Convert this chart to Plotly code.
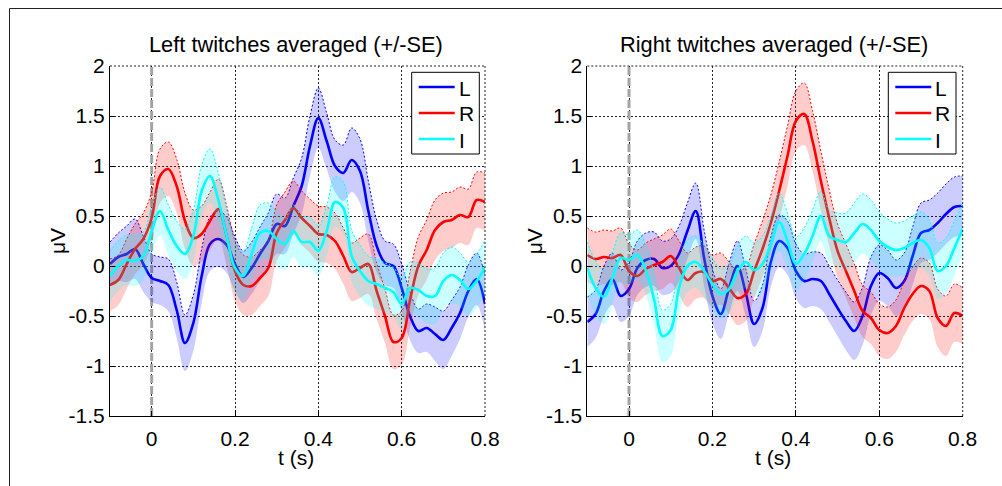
import plotly.graph_objects as go

# ---------------- data ----------------
t = [-0.10, -0.08, -0.06, -0.04, -0.02, 0.00, 0.02, 0.04, 0.06, 0.08,
     0.10, 0.12, 0.14, 0.16, 0.18, 0.20, 0.22, 0.24, 0.26, 0.28,
     0.30, 0.32, 0.34, 0.36, 0.38, 0.40, 0.42, 0.44, 0.46, 0.48,
     0.50, 0.52, 0.54, 0.56, 0.58, 0.60, 0.62, 0.64, 0.66, 0.68,
     0.70, 0.72, 0.74, 0.76, 0.78, 0.80]

series_names = ["L", "R", "I"]

# Left twitches
left_L = [0.02, 0.09, 0.12, 0.17, 0.02, -0.12, -0.15, -0.19, -0.44, -0.77,
          -0.57, -0.10, 0.22, 0.27, 0.21, 0.02, -0.11, -0.02, 0.12, 0.25,
          0.42, 0.40, 0.60, 0.80, 1.20, 1.48, 1.25, 1.00, 0.93, 1.06,
          0.95, 0.55, 0.20, 0.03, 0.00, -0.22, -0.50, -0.65, -0.62, -0.68,
          -0.74, -0.62, -0.47, -0.25, -0.13, -0.38]
left_L_se = [0.22, 0.24, 0.28, 0.30, 0.28, 0.24, 0.24, 0.26, 0.28, 0.28,
             0.28, 0.27, 0.27, 0.28, 0.28, 0.27, 0.26, 0.26, 0.27, 0.28,
             0.30, 0.28, 0.28, 0.28, 0.30, 0.30, 0.28, 0.26, 0.28, 0.32,
             0.32, 0.30, 0.26, 0.22, 0.22, 0.24, 0.24, 0.22, 0.24, 0.27,
             0.29, 0.28, 0.26, 0.26, 0.26, 0.28]
left_R = [-0.19, -0.14, 0.02, 0.17, 0.27, 0.48, 0.90, 0.97, 0.80, 0.45,
          0.28, 0.32, 0.45, 0.57, 0.30, -0.05, -0.19, -0.20, -0.12, -0.02,
          0.33, 0.46, 0.58, 0.48, 0.40, 0.32, 0.31, 0.25, 0.10, -0.06,
          -0.02, 0.02, -0.25, -0.50, -0.76, -0.72, -0.34, 0.00, 0.16, 0.36,
          0.44, 0.46, 0.51, 0.49, 0.66, 0.64]
left_R_se = [0.26, 0.25, 0.25, 0.25, 0.26, 0.26, 0.27, 0.27, 0.27, 0.28,
             0.28, 0.28, 0.29, 0.30, 0.30, 0.30, 0.30, 0.29, 0.28, 0.28,
             0.28, 0.28, 0.27, 0.27, 0.27, 0.28, 0.28, 0.28, 0.28, 0.29,
             0.30, 0.30, 0.28, 0.27, 0.27, 0.27, 0.28, 0.29, 0.30, 0.30,
             0.29, 0.28, 0.28, 0.28, 0.28, 0.29]
left_I = [-0.10, 0.00, 0.06, 0.05, 0.10, 0.35, 0.55, 0.36, 0.20, 0.12,
          0.30, 0.75, 0.90, 0.66, 0.30, -0.02, -0.10, 0.12, 0.33, 0.35,
          0.27, 0.22, 0.35, 0.24, 0.24, 0.15, 0.35, 0.64, 0.58, 0.10,
          -0.05, -0.15, -0.18, -0.22, -0.26, -0.38, -0.22, -0.24, -0.30, -0.30,
          -0.15, -0.09, -0.14, -0.23, -0.15, -0.01]
left_I_se = [0.25, 0.25, 0.25, 0.25, 0.24, 0.24, 0.24, 0.25, 0.25, 0.25,
             0.26, 0.26, 0.27, 0.27, 0.26, 0.25, 0.25, 0.26, 0.28, 0.28,
             0.27, 0.26, 0.26, 0.26, 0.25, 0.25, 0.25, 0.25, 0.26, 0.26,
             0.26, 0.25, 0.25, 0.25, 0.25, 0.26, 0.26, 0.27, 0.27, 0.28,
             0.28, 0.28, 0.27, 0.27, 0.27, 0.27]

# Right twitches
right_L = [-0.56, -0.48, -0.25, -0.13, -0.30, -0.23, -0.02, 0.06, 0.07, -0.02,
           0.00, 0.12, 0.35, 0.55, 0.08, -0.30, -0.48, -0.22, 0.00, -0.27,
           -0.58, -0.42, 0.04, 0.25, 0.18, -0.05, -0.15, -0.13, -0.15, -0.28,
           -0.42, -0.55, -0.65, -0.50, -0.20, -0.07, -0.12, -0.22, -0.15, 0.10,
           0.33, 0.36, 0.43, 0.52, 0.59, 0.60]
right_L_se = [0.25, 0.24, 0.25, 0.26, 0.26, 0.27, 0.27, 0.27, 0.27, 0.27,
              0.27, 0.28, 0.28, 0.28, 0.28, 0.27, 0.25, 0.25, 0.25, 0.24,
              0.23, 0.23, 0.25, 0.26, 0.27, 0.27, 0.27, 0.27, 0.28, 0.28,
              0.28, 0.29, 0.29, 0.29, 0.29, 0.28, 0.28, 0.28, 0.28, 0.29,
              0.30, 0.30, 0.30, 0.30, 0.30, 0.30]
right_R = [0.11, 0.07, 0.09, 0.08, 0.11, -0.05, -0.10, -0.03, 0.01, 0.04,
           0.10, -0.02, -0.14, -0.07, -0.06, -0.15, -0.13, -0.22, -0.32, -0.28,
           -0.05, 0.17, 0.43, 0.75, 1.10, 1.45, 1.52, 1.25, 0.85, 0.48,
           0.15, -0.05, -0.25, -0.45, -0.52, -0.64, -0.67, -0.60, -0.42, -0.28,
           -0.20, -0.25, -0.52, -0.60, -0.47, -0.50]
right_R_se = [0.27, 0.27, 0.27, 0.27, 0.27, 0.27, 0.26, 0.26, 0.26, 0.27,
              0.27, 0.27, 0.27, 0.26, 0.26, 0.26, 0.26, 0.26, 0.27, 0.27,
              0.27, 0.28, 0.28, 0.29, 0.30, 0.30, 0.31, 0.30, 0.30, 0.28,
              0.27, 0.27, 0.27, 0.26, 0.26, 0.26, 0.26, 0.26, 0.27, 0.27,
              0.28, 0.28, 0.29, 0.30, 0.29, 0.28]
right_I = [-0.02, -0.22, -0.31, -0.12, 0.08, 0.06, 0.11, -0.04, -0.33, -0.70,
           -0.64, -0.22, 0.00, 0.04, -0.05, -0.18, -0.28, -0.23, -0.05, 0.04,
           -0.04, 0.02, 0.22, 0.44, 0.25, 0.02, 0.12, 0.30, 0.50, 0.30,
           0.26, 0.24, 0.33, 0.42, 0.36, 0.25, 0.19, 0.16, 0.18, 0.23,
           0.26, 0.18, -0.05, 0.00, 0.18, 0.37]
right_I_se = [0.26, 0.27, 0.27, 0.26, 0.25, 0.25, 0.25, 0.25, 0.26, 0.26,
              0.26, 0.26, 0.26, 0.26, 0.26, 0.26, 0.25, 0.25, 0.25, 0.26,
              0.27, 0.28, 0.28, 0.29, 0.28, 0.27, 0.26, 0.26, 0.25, 0.26,
              0.27, 0.29, 0.30, 0.30, 0.30, 0.29, 0.28, 0.27, 0.27, 0.27,
              0.28, 0.28, 0.28, 0.28, 0.27, 0.26]

x_ticks = [0, 0.2, 0.4, 0.6, 0.8]
x_ticktext = ["0", "0.2", "0.4", "0.6", "0.8"]
y_ticks = [-1.5, -1, -0.5, 0, 0.5, 1, 1.5, 2]
y_ticktext = ["-1.5", "-1", "-0.5", "0", "0.5", "1", "1.5", "2"]
x_range = [-0.1, 0.8]
y_range = [-1.5, 2]
zero_time = [0, 0]

titles = ["Left twitches averaged (+/-SE)", "Right twitches averaged (+/-SE)"]

# ---------------- styling ----------------
W, H = 1002, 486
FONT = "Liberation Sans, Arial, Helvetica, sans-serif"
FS = 21
TFS = 21.8
line_colors = {"L": "rgb(0,0,255)", "R": "rgb(255,0,0)", "I": "rgb(0,255,255)"}
fill_colors = {"L": "rgba(0,0,255,0.2)", "R": "rgba(255,0,0,0.2)", "I": "rgba(0,255,255,0.2)"}

plot_top, plot_bot = 66, 416
panels = [
    dict(xd=(110, 485), data={"L": (left_L, left_L_se), "R": (left_R, left_R_se), "I": (left_I, left_I_se)},
         leg=(411.7, 479.3)),
    dict(xd=(587.3, 962.7), data={"L": (right_L, right_L_se), "R": (right_R, right_R_se), "I": (right_I, right_I_se)},
         leg=(888.3, 956.0)),
]

fig = go.Figure()
shapes = []
annotations = []
layout_axes = {}

for i, p in enumerate(panels):
    xs = "x" if i == 0 else "x2"
    ys = "y" if i == 0 else "y2"
    # gray dashed reference line at t = 0 (drawn first, under the data)
    fig.add_trace(go.Scatter(x=zero_time, y=y_range, xaxis=xs, yaxis=ys, mode="lines",
                             line=dict(color="#a4a4a4", width=3, dash="8px,3px"),
                             showlegend=False, hoverinfo="skip"))
    for name in series_names:
        mean, se = p["data"][name]
        upper = [m + s for m, s in zip(mean, se)]
        lower = [m - s for m, s in zip(mean, se)]
        fig.add_trace(go.Scatter(x=t, y=lower, xaxis=xs, yaxis=ys, mode="lines",
                                 line=dict(width=0, shape="spline", color=line_colors[name]),
                                 showlegend=False, hoverinfo="skip"))
        fig.add_trace(go.Scatter(x=t, y=upper, xaxis=xs, yaxis=ys, mode="lines",
                                 fill="tonexty", fillcolor=fill_colors[name],
                                 line=dict(width=1, dash="2px,2px", shape="spline", color=line_colors[name]),
                                 showlegend=False, hoverinfo="skip"))
        fig.add_trace(go.Scatter(x=t, y=mean, xaxis=xs, yaxis=ys, mode="lines", name=name,
                                 line=dict(width=2.6, shape="spline", color=line_colors[name]),
                                 showlegend=False))

    x0, x1 = p["xd"]
    ax_common = dict(showgrid=True, gridcolor="#222", griddash="2px,2px", gridwidth=1,
                     showline=True, linecolor="black", linewidth=1, mirror=False,
                     ticks="inside", ticklen=5, tickcolor="black", zeroline=False,
                     automargin=False,
                     tickfont=dict(family=FONT, size=FS, color="black"), fixedrange=True)
    xkey = "xaxis" if i == 0 else "xaxis2"
    ykey = "yaxis" if i == 0 else "yaxis2"
    layout_axes[xkey] = dict(ax_common, domain=[x0 / W, x1 / W], range=x_range,
                             tickvals=x_ticks, ticktext=x_ticktext, anchor=ys,
                             ticklabelstandoff=4)
    layout_axes[ykey] = dict(ax_common, domain=[1 - plot_bot / H, 1 - plot_top / H], range=y_range,
                             tickvals=y_ticks, ticktext=y_ticktext, anchor=xs)

    xd = xs + " domain"
    yd = ys + " domain"
    # top and right edges dotted (grid style)
    shapes.append(dict(type="line", xref=xd, yref=yd, x0=0, x1=1, y0=1, y1=1,
                       line=dict(color="#222", width=1, dash="2px,2px")))
    shapes.append(dict(type="line", xref=xd, yref=yd, x0=1, x1=1, y0=0, y1=1,
                       line=dict(color="#222", width=1, dash="2px,2px")))

    cx = (x0 + x1) / 2 / W
    annotations.append(dict(text=titles[i], x=cx - 1.5 / W, y=1 - 45 / H, xref="paper", yref="paper",
                            showarrow=False, xanchor="center", yanchor="middle",
                            font=dict(family=FONT, size=TFS, color="black")))
    annotations.append(dict(text="t (s)", x=cx - 2 / W, y=1 - 457 / H, xref="paper", yref="paper",
                            showarrow=False, xanchor="center", yanchor="middle",
                            font=dict(family=FONT, size=FS, color="black")))
    annotations.append(dict(text="μV", x=(x0 - 53) / W, y=1 - 241 / H, xref="paper", yref="paper",
                            showarrow=False, xanchor="center", yanchor="middle", textangle=-90,
                            font=dict(family=FONT, size=FS, color="black")))

    # legend box (drawn by hand to match the original layout)
    lx0, lx1 = p["leg"]
    shapes.append(dict(type="rect", xref="paper", yref="paper",
                       x0=lx0 / W, x1=lx1 / W, y0=1 - 154 / H, y1=1 - 72.3 / H,
                       line=dict(color="black", width=1), fillcolor="white", layer="above"))
    for k, name in enumerate(series_names):
        ry = 87 + 26 * k
        shapes.append(dict(type="line", xref="paper", yref="paper",
                           x0=(lx0 + 7) / W, x1=(lx0 + 43) / W, y0=1 - ry / H, y1=1 - ry / H,
                           line=dict(color=line_colors[name], width=2.6), layer="above"))
        annotations.append(dict(text=name, x=(lx0 + 45) / W, y=1 - (ry + 1) / H, xref="paper", yref="paper",
                                showarrow=False, xanchor="left", yanchor="middle",
                                font=dict(family=FONT, size=FS, color="black")))

# figure frame (partially visible)
shapes.append(dict(type="line", xref="paper", yref="paper", x0=9.5 / W, x1=9.5 / W, y0=0, y1=1 - 8.5 / H,
                   line=dict(color="#222", width=1)))
shapes.append(dict(type="line", xref="paper", yref="paper", x0=9.5 / W, x1=1, y0=1 - 8.5 / H, y1=1 - 8.5 / H,
                   line=dict(color="#222", width=1)))

fig.update_layout(
    width=W, height=H, autosize=False,
    margin=dict(l=0, r=0, t=0, b=0, pad=0, autoexpand=False),
    paper_bgcolor="white", plot_bgcolor="white",
    font=dict(family=FONT, size=FS, color="black"),
    shapes=shapes, annotations=annotations,
    showlegend=False,
    **layout_axes,
)

fig.write_html("out.html", config={"responsive": False})
